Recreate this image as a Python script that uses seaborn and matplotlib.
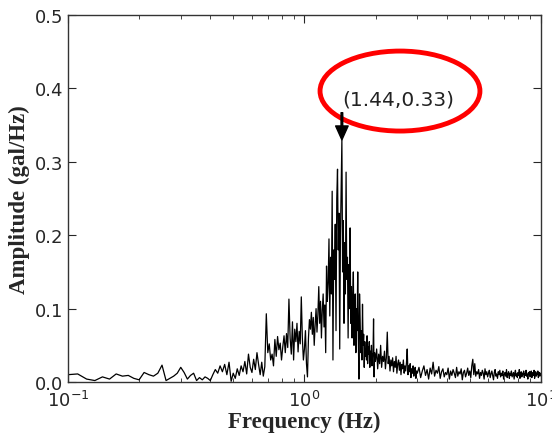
import numpy as np
import pandas as pd
import seaborn as sns
import matplotlib.pyplot as plt
from matplotlib.patches import Ellipse

# FFT bins (Hz): finer grid at low frequency, coarser where the band is dense
freq_a = np.arange(10, 50) / 100          # 0.10 .. 0.49
freq_b = np.arange(50, 100) / 100         # 0.50 .. 0.99
freq_c = np.arange(100, 200) / 100        # 1.00 .. 1.99
freq_d = np.arange(100, 150) * 0.02       # 2.00 .. 2.98
freq_e = np.arange(60, 200) * 0.05        # 3.00 .. 9.95

amp_a = [0.010, 0.011, 0.004, 0.002, 0.007, 0.004, 0.011, 0.008, 0.009, 0.005,
         0.003, 0.013, 0.010, 0.008, 0.012, 0.023, 0.002, 0.005, 0.008, 0.012,
         0.020, 0.013, 0.004, 0.009, 0.012, 0.002, 0.006, 0.003, 0.007, 0.005,
         0.002, 0.010, 0.017, 0.012, 0.022, 0.014, 0.024, 0.010, 0.027, 0.001]

amp_b = [0.012, 0.005, 0.018, 0.009, 0.022, 0.014, 0.028, 0.011, 0.038, 0.020,
         0.013, 0.031, 0.017, 0.040, 0.024, 0.010, 0.027, 0.008, 0.021, 0.093,
         0.040, 0.052, 0.030, 0.038, 0.022, 0.058, 0.035, 0.062, 0.044, 0.053,
         0.030, 0.048, 0.063, 0.040, 0.066, 0.047, 0.113, 0.060, 0.038, 0.082,
         0.030, 0.072, 0.055, 0.080, 0.041, 0.069, 0.052, 0.116, 0.060, 0.030]

amp_c = [0.045, 0.070, 0.025, 0.007, 0.060, 0.085, 0.072, 0.095, 0.065, 0.088,
         0.050, 0.078, 0.100, 0.068, 0.092, 0.130, 0.080, 0.110, 0.060, 0.098,
         0.120, 0.075, 0.105, 0.040, 0.158, 0.110, 0.135, 0.195, 0.090, 0.170,
         0.120, 0.260, 0.030, 0.180, 0.140, 0.215, 0.070, 0.250, 0.290, 0.180,
         0.230, 0.045, 0.200, 0.270, 0.330, 0.150, 0.220, 0.080, 0.190, 0.120,
         0.286, 0.140, 0.170, 0.060, 0.160, 0.100, 0.210, 0.080, 0.130, 0.060,
         0.110, 0.150, 0.050, 0.095, 0.120, 0.040, 0.100, 0.070, 0.150, 0.060,
         0.004, 0.120, 0.085, 0.040, 0.070, 0.030, 0.106, 0.050, 0.065, 0.020,
         0.055, 0.035, 0.045, 0.030, 0.063, 0.025, 0.048, 0.038, 0.055, 0.020,
         0.042, 0.030, 0.050, 0.022, 0.035, 0.040, 0.086, 0.007, 0.040, 0.028]

amp_d = [0.030, 0.045, 0.018, 0.038, 0.025, 0.050, 0.020, 0.035, 0.028, 0.042,
         0.018, 0.033, 0.068, 0.025, 0.035, 0.015, 0.030, 0.022, 0.033, 0.014,
         0.028, 0.020, 0.035, 0.012, 0.025, 0.030, 0.016, 0.027, 0.010, 0.024,
         0.018, 0.030, 0.012, 0.022, 0.015, 0.026, 0.045, 0.010, 0.022, 0.014,
         0.025, 0.006, 0.018, 0.012, 0.022, 0.008, 0.016, 0.020, 0.005, 0.015]

amp_e = [0.012, 0.020, 0.006, 0.015, 0.022, 0.009, 0.017, 0.004, 0.019, 0.011,
         0.027, 0.008, 0.016, 0.012, 0.021, 0.005, 0.014, 0.018, 0.007, 0.013,
         0.010, 0.019, 0.004, 0.015, 0.009, 0.017, 0.012, 0.006, 0.020, 0.008,
         0.014, 0.011, 0.018, 0.003, 0.013, 0.016, 0.007, 0.012, 0.019, 0.009,
         0.015, 0.006, 0.022, 0.031, 0.010, 0.025, 0.008, 0.014, 0.011, 0.017,
         0.005, 0.013, 0.009, 0.016, 0.012, 0.004, 0.018, 0.010, 0.014, 0.007,
         0.012, 0.016, 0.006, 0.011, 0.015, 0.009, 0.003, 0.013, 0.017, 0.008,
         0.011, 0.005, 0.014, 0.010, 0.016, 0.007, 0.012, 0.009, 0.015, 0.004,
         0.010, 0.013, 0.008, 0.017, 0.006, 0.011, 0.014, 0.005, 0.012, 0.009,
         0.015, 0.007, 0.010, 0.013, 0.004, 0.012, 0.016, 0.008, 0.011, 0.006,
         0.013, 0.009, 0.017, 0.005, 0.011, 0.014, 0.007, 0.012, 0.010, 0.015,
         0.006, 0.012, 0.009, 0.016, 0.008, 0.011, 0.004, 0.013, 0.010, 0.014,
         0.007, 0.012, 0.015, 0.006, 0.010, 0.013, 0.009, 0.016, 0.005, 0.011,
         0.014, 0.008, 0.012, 0.010, 0.015, 0.006, 0.011, 0.013, 0.008, 0.012]

peak_freq = 1.44
peak_amp = 0.33
y_ticks = [0.0, 0.1, 0.2, 0.3, 0.4, 0.5]

df = pd.DataFrame({
    'freq': np.concatenate([freq_a, freq_b, freq_c, freq_d, freq_e]),
    'amp': np.concatenate([amp_a, amp_b, amp_c, amp_d, amp_e]),
})

sns.set_style('ticks')
plt.rcParams['font.family'] = ['DejaVu Sans']
plt.rcParams['xtick.direction'] = 'in'
plt.rcParams['ytick.direction'] = 'in'
plt.rcParams['xtick.top'] = True
plt.rcParams['ytick.right'] = True

fig = plt.figure(figsize=(5.52, 4.35), dpi=100)
ax = fig.add_axes([0.123, 0.1195, 0.857, 0.8435])

sns.lineplot(data=df, x='freq', y='amp', ax=ax, color='black', lw=0.9,
             estimator=None, sort=True)

ax.set_xscale('log')
ax.set_xlim(0.1, 10)
ax.set_ylim(0, 0.5)
ax.set_yticks(y_ticks)
ax.set_yticklabels([f'{v:.1f}' for v in y_ticks])
ax.tick_params(which='major', length=6, width=0.8, labelsize=13)
ax.tick_params(axis='y', pad=3.5)
ax.tick_params(axis='x', pad=6)
ax.tick_params(which='minor', length=3, width=0.6)
for sp in ax.spines.values():
    sp.set_linewidth(1.0)
    sp.set_color('#333333')

label_font = dict(family='Liberation Serif', weight='bold', size=16.5)
ax.set_xlabel('Frequency (Hz)', fontdict=label_font, labelpad=0)
ax.set_ylabel('Amplitude (gal/Hz)', fontdict=label_font, labelpad=3)

# arrow down to the peak
ax.annotate('', xy=(peak_freq, peak_amp), xytext=(peak_freq, 0.367),
            arrowprops=dict(facecolor='black', edgecolor='black', width=1.2,
                            headwidth=9, headlength=10, shrink=0))
ax.text(peak_freq * 1.005, 0.386, f'({peak_freq},{peak_amp})', fontsize=14.5,
        ha='left', va='center', color='#222222')

ell = Ellipse((0.702, 0.793), 0.338, 0.218, transform=ax.transAxes,
              fill=False, edgecolor='red', lw=3.5)
ax.add_patch(ell)

fig.savefig('out.png', dpi=100)
